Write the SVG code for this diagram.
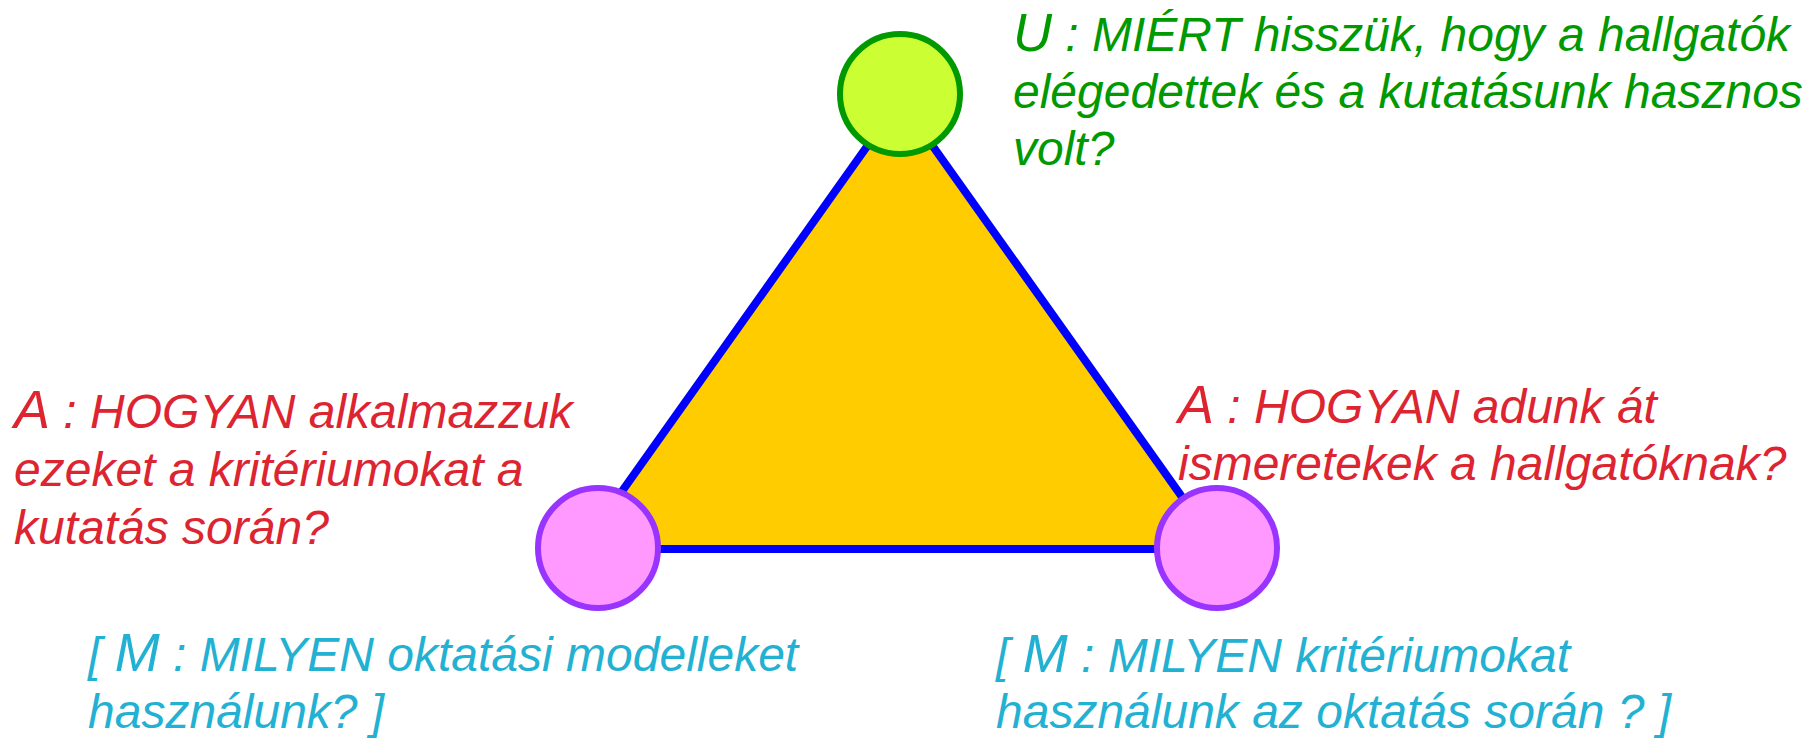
<svg xmlns="http://www.w3.org/2000/svg" width="1816" height="738" viewBox="0 0 1816 738">
<style>
.t{font-family:"Liberation Sans",Arial,sans-serif;font-style:italic;font-size:48px}
.big{font-size:54px}
.g{fill:#009900}
.r{fill:#DD2431}
.c{fill:#22B1D3}
.edge{stroke:#0000FF;stroke-width:8;fill:none;stroke-linecap:round}
.top{fill:#CCFF33;stroke:#009900;stroke-width:6}
.pink{fill:#FF99FF;stroke:#9933FF;stroke-width:6}
</style>
<rect width="1816" height="738" fill="#FFFFFF"/>
<polygon id="area" points="900,100 581,549 1219,549" fill="#FFCC00"/>
<g id="connectors">
<line class="edge" x1="900" y1="100" x2="581" y2="549"/>
<line class="edge" x1="900" y1="100" x2="1219" y2="549"/>
<line class="edge" x1="581" y1="549" x2="1219" y2="549"/>
</g>
<g id="node-u">
<circle class="top" cx="900" cy="94" r="60"/>
<text class="t g"><tspan x="1013" y="51"><tspan class="big">U</tspan> : MIÉRT hisszük, hogy a hallgatók</tspan><tspan x="1013" y="108">elégedettek és a kutatásunk hasznos</tspan><tspan x="1013" y="165">volt?</tspan></text>
</g>
<g id="node-left">
<circle class="pink" cx="598" cy="548" r="60"/>
<text class="t r"><tspan x="14" y="428"><tspan class="big">A</tspan> : HOGYAN alkalmazzuk</tspan><tspan x="14" y="486">ezeket a kritériumokat a</tspan><tspan x="14" y="544">kutatás során?</tspan></text>
<text class="t c"><tspan x="88" y="671">[ <tspan class="big">M</tspan> : MILYEN oktatási modelleket</tspan><tspan x="88" y="728">használunk? ]</tspan></text>
</g>
<g id="node-right">
<circle class="pink" cx="1217" cy="548" r="60"/>
<text class="t r"><tspan x="1178" y="423"><tspan class="big">A</tspan> : HOGYAN adunk át</tspan><tspan x="1178" y="480">ismeretekek a hallgatóknak?</tspan></text>
<text class="t c"><tspan x="996" y="672">[ <tspan class="big">M</tspan> : MILYEN kritériumokat</tspan><tspan x="996" y="728">használunk az oktatás során ? ]</tspan></text>
</g>
</svg>
